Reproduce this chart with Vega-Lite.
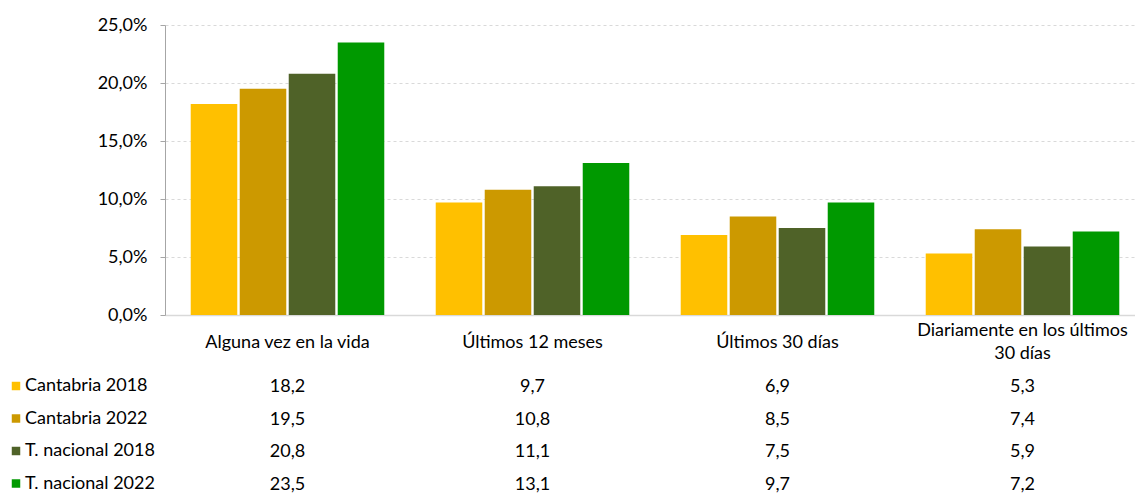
{
  "$schema": "https://vega.github.io/schema/vega-lite/v6.json",
  "padding": {"left": 7, "top": 16, "right": 0, "bottom": 0},
  "autosize": {"type": "pad"},
  "bounds": "flush",
  "spacing": 72,
  "config": {
    "view": {"stroke": null},
    "font": "Lato",
    "locale": {"number": {"decimal": ",", "thousands": ".", "grouping": [3], "currency": ["", " €"]}}
  },
  "data": {"values": [
    {"categoria": "Alguna vez en la vida", "serie": "Cantabria 2018", "valor": 18.2},
    {"categoria": "Alguna vez en la vida", "serie": "Cantabria 2022", "valor": 19.5},
    {"categoria": "Alguna vez en la vida", "serie": "T. nacional 2018", "valor": 20.8},
    {"categoria": "Alguna vez en la vida", "serie": "T. nacional 2022", "valor": 23.5},
    {"categoria": "Últimos 12 meses", "serie": "Cantabria 2018", "valor": 9.7},
    {"categoria": "Últimos 12 meses", "serie": "Cantabria 2022", "valor": 10.8},
    {"categoria": "Últimos 12 meses", "serie": "T. nacional 2018", "valor": 11.1},
    {"categoria": "Últimos 12 meses", "serie": "T. nacional 2022", "valor": 13.1},
    {"categoria": "Últimos 30 días", "serie": "Cantabria 2018", "valor": 6.9},
    {"categoria": "Últimos 30 días", "serie": "Cantabria 2022", "valor": 8.5},
    {"categoria": "Últimos 30 días", "serie": "T. nacional 2018", "valor": 7.5},
    {"categoria": "Últimos 30 días", "serie": "T. nacional 2022", "valor": 9.7},
    {"categoria": "Diariamente en los últimos 30 días", "serie": "Cantabria 2018", "valor": 5.3},
    {"categoria": "Diariamente en los últimos 30 días", "serie": "Cantabria 2022", "valor": 7.4},
    {"categoria": "Diariamente en los últimos 30 días", "serie": "T. nacional 2018", "valor": 5.9},
    {"categoria": "Diariamente en los últimos 30 días", "serie": "T. nacional 2022", "valor": 7.2}
  ]},
  "resolve": {"scale": {"x": "independent"}},
  "vconcat": [
    {
      "width": 980,
      "height": 290,
      "mark": {"type": "bar"},
      "encoding": {
        "x": {
          "field": "categoria", "type": "nominal",
          "sort": ["Alguna vez en la vida", "Últimos 12 meses", "Últimos 30 días", "Diariamente en los últimos 30 días"],
          "scale": {"paddingInner": 0.21, "paddingOuter": 0.105},
          "axis": {
            "title": null, "labelAngle": 0, "ticks": false, "tickSize": 0,
            "labelPadding": {"condition": {"test": "datum.value == 'Diariamente en los últimos 30 días'", "value": 15}, "value": 27},
            "labelBaseline": "middle", "labelFontSize": 18,
            "labelColor": "#000000", "labelLimit": 400, "labelLineHeight": 23,
            "domainColor": "#d9d9d9", "domainWidth": 1.5,
            "labelExpr": "datum.value == 'Diariamente en los últimos 30 días' ? ['Diariamente en los últimos', '30 días'] : datum.value"
          }
        },
        "y": {
          "field": "valor", "type": "quantitative",
          "scale": {"domain": [0, 25]},
          "axis": {
            "title": null, "values": [0, 5, 10, 15, 20, 25], "format": ".1f",
            "labelExpr": "datum.label + '%'",
            "tickSize": 5, "tickColor": "#a6a6a6", "domainColor": "#a6a6a6",
            "gridColor": "#d9d9d9", "gridDash": [3, 3], "labelPadding": 13,
            "labelFontSize": 18, "labelColor": "#000000"
          }
        },
        "xOffset": {
          "field": "serie", "type": "nominal",
          "sort": ["Cantabria 2018", "Cantabria 2022", "T. nacional 2018", "T. nacional 2022"],
          "scale": {"paddingInner": 0.05}
        },
        "color": {
          "field": "serie", "type": "nominal",
          "scale": {
            "domain": ["Cantabria 2018", "Cantabria 2022", "T. nacional 2018", "T. nacional 2022"],
            "range": ["#FFC000", "#CC9900", "#4F6228", "#009900"]
          },
          "legend": {
            "orient": "none", "legendX": -158, "legendY": 352, "title": null,
            "direction": "vertical", "symbolType": "square", "symbolSize": 72,
            "symbolStrokeWidth": 0, "labelFontSize": 18, "labelColor": "#000000",
            "rowPadding": 14.5, "labelOffset": 0, "padding": 0, "labelLimit": 300
          }
        }
      }
    },
    {
      "width": 980,
      "height": 98,
      "mark": {"type": "text", "fontSize": 18, "color": "#000000", "baseline": "middle"},
      "encoding": {
        "x": {
          "field": "categoria", "type": "nominal",
          "sort": ["Alguna vez en la vida", "Últimos 12 meses", "Últimos 30 días", "Diariamente en los últimos 30 días"],
          "scale": {"paddingInner": 0.21, "paddingOuter": 0.105},
          "axis": null
        },
        "y": {
          "field": "serie", "type": "ordinal",
          "sort": ["Cantabria 2018", "Cantabria 2022", "T. nacional 2018", "T. nacional 2022"],
          "scale": {"type": "point", "padding": 0},
          "axis": null
        },
        "text": {"field": "valor", "type": "quantitative", "format": ".1f"}
      }
    }
  ]
}
